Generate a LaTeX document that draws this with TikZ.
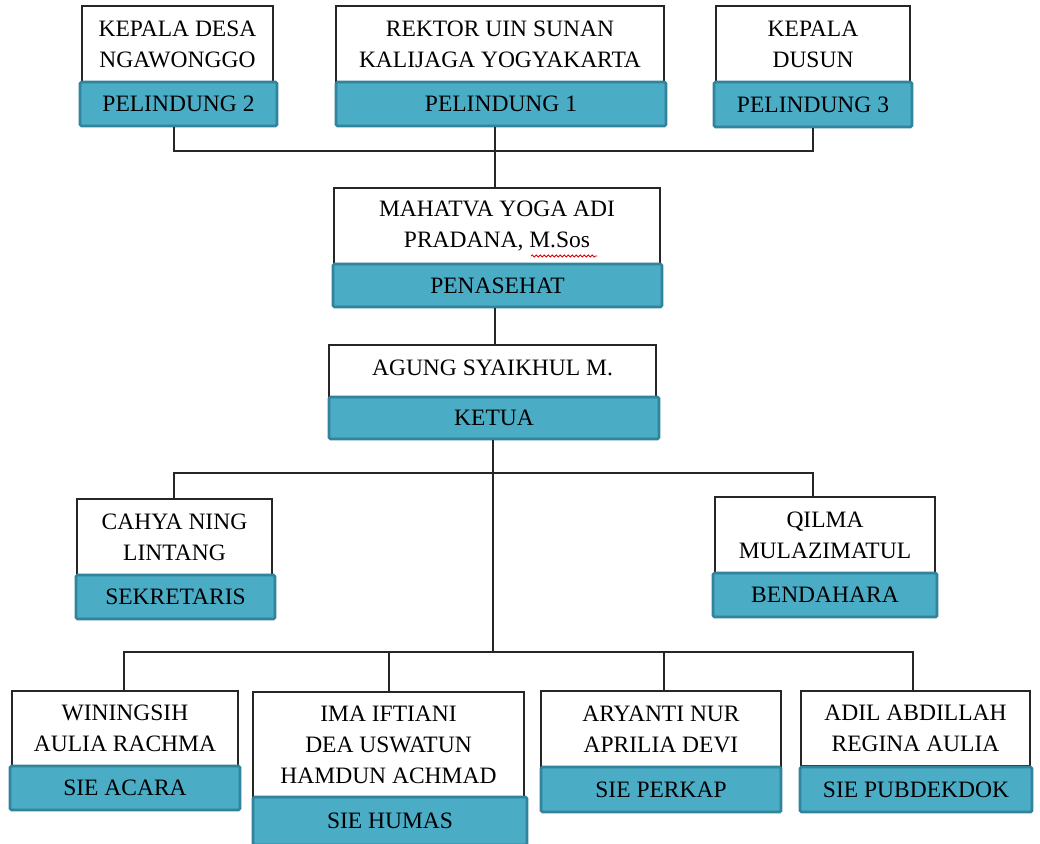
\documentclass[tikz,border=0pt]{standalone}
\usepackage{fontspec}
\setmainfont{Liberation Serif}
\usetikzlibrary{decorations.pathmorphing}
\definecolor{tealfill}{HTML}{4BACC6}
\definecolor{tealdraw}{HTML}{31849B}
\begin{document}
\begin{tikzpicture}[x=1pt,y=-1pt,
  namebox/.style={draw=black!85, line width=1.2pt, fill=white, inner sep=0pt, align=center,
    font=\fontsize{23.5}{31}\selectfont},
  rolebox/.style={draw=tealdraw, line width=2.8pt, fill=tealfill, rounded corners=1.5pt,
    inner sep=0pt, align=center, font=\fontsize{23.5}{31}\selectfont},
  link/.style={draw=black!85, line width=1.3pt},
  spell/.style={draw=red!85!black, line width=0.8pt, decorate,
    decoration={snake, amplitude=1pt, segment length=4pt}}]
\useasboundingbox (0,0) rectangle (1040,843);

\coordinate (b1) at (495,151);
\coordinate (b2) at (493,473);
\coordinate (b3) at (493,652);

% ---- top row
\node[namebox, minimum width=191pt, minimum height=76pt] (w1) at (177.5,44) {KEPALA DESA\\NGAWONGGO};
\node[namebox, minimum width=328pt, minimum height=76pt] (w2) at (500,44) {REKTOR UIN SUNAN\\KALIJAGA YOGYAKARTA};
\node[namebox, minimum width=194pt, minimum height=76pt] (w3) at (813,44) {KEPALA\\DUSUN};
\node[rolebox, minimum width=197pt, minimum height=44pt] (t1) at (178.5,104) {PELINDUNG 2};
\node[rolebox, minimum width=330pt, minimum height=44pt] (t2) at (501,104) {PELINDUNG 1};
\node[rolebox, minimum width=198pt, minimum height=45pt] (t3) at (813,104.5) {PELINDUNG 3};

% ---- penasehat
\node[namebox, minimum width=326pt, minimum height=76pt] (w4) at (497,226) {MAHATVA YOGA ADI\\PRADANA, M.Sos};
\node[rolebox, minimum width=329pt, minimum height=43pt] (t4) at (497.5,285.5) {PENASEHAT};

% ---- ketua
\node[namebox, minimum width=327pt, minimum height=53pt, text depth=8pt] (w5) at (492.5,371.5) {AGUNG SYAIKHUL M.};
\node[rolebox, minimum width=330pt, minimum height=42pt] (t5) at (494,418) {KETUA};

% ---- sekretaris / bendahara
\node[namebox, minimum width=195pt, minimum height=77pt] (w6) at (174.5,537.5) {CAHYA NING\\LINTANG};
\node[rolebox, minimum width=199pt, minimum height=44pt] (t6) at (175.5,597) {SEKRETARIS};
\node[namebox, minimum width=220pt, minimum height=76pt] (w7) at (825,535) {QILMA\\MULAZIMATUL};
\node[rolebox, minimum width=224pt, minimum height=44pt] (t7) at (825,595) {BENDAHARA};

% ---- sie
\node[namebox, minimum width=226pt, minimum height=75pt] (w8) at (125,728.5) {WININGSIH\\AULIA RACHMA};
\node[rolebox, minimum width=230pt, minimum height=44pt] (t8) at (125,788) {SIE ACARA};
\node[namebox, minimum width=271pt, minimum height=105pt] (w9) at (388.5,744.5) {IMA IFTIANI\\DEA USWATUN\\HAMDUN ACHMAD};
\node[rolebox, minimum width=274pt, minimum height=48pt] (t9) at (390,821) {SIE HUMAS};
\node[namebox, minimum width=240pt, minimum height=76pt] (w10) at (661,729) {ARYANTI NUR\\APRILIA DEVI};
\node[rolebox, minimum width=240pt, minimum height=45pt] (t10) at (661,789.5) {SIE PERKAP};
\node[namebox, minimum width=229pt, minimum height=75pt] (w11) at (915.5,728.5) {ADIL ABDILLAH\\REGINA AULIA};
\node[rolebox, minimum width=232pt, minimum height=45pt] (t11) at (916,789.5) {SIE PUBDEKDOK};

% spell-check underline
\draw[spell] (531,256) -- (597,256);

% ---- connectors
\draw[link] ([xshift=-4.5pt]t1.south) |- (b1) -| (t3.south);
\draw[link] ([xshift=-6pt]t2.south) -- ([xshift=-2pt]w4.north);
\draw[link] ([xshift=-2.5pt]t4.south) -- ([xshift=2.5pt]w5.north);
\draw[link] ([xshift=-1pt]t5.south) -- (b3);
\draw[link] ([xshift=-0.5pt]w6.north) |- (b2) -| ([xshift=-12pt]w7.north);
\draw[link] ([xshift=-1pt]w8.north) |- (b3) -| ([xshift=-2.5pt]w11.north);
\draw[link] ([xshift=0.5pt]w9.north) -- ([xshift=0.5pt]w9.north |- b3);
\draw[link] ([xshift=3pt]w10.north) -- ([xshift=3pt]w10.north |- b3);
\end{tikzpicture}
\end{document}
